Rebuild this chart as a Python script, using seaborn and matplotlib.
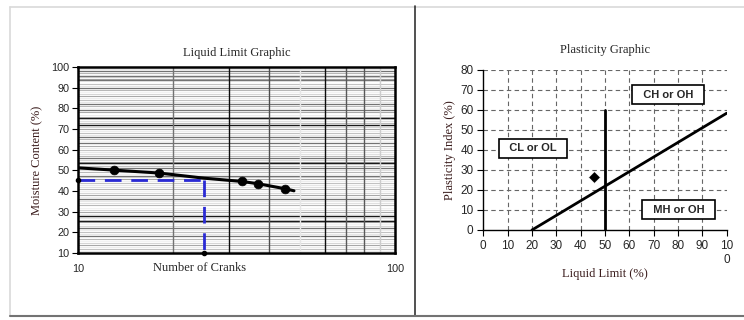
import numpy as np
import pandas as pd
import matplotlib
matplotlib.use("Agg")
import matplotlib.pyplot as plt
from matplotlib.lines import Line2D
from matplotlib.ticker import FixedLocator, NullLocator
import seaborn as sns

# ---- Liquid limit test data ----
cranks = [13, 18, 33, 37, 45]
moisture = [50.0, 48.7, 44.6, 43.5, 41.1]
# flow curve drawn through the test points
curve_cranks = [10, 13, 18, 25, 33, 37, 45, 48]
curve_moisture = [51.2, 50.1, 48.7, 46.2, 44.6, 43.5, 41.1, 40.1]
ll_cranks = 25
liquid_limit = 45.5
plasticity_index = 26.5

# ---- Plasticity chart reference lines ----
a_line_ll = [20, 100]
a_line_pi = [0, 58.4]
b_line_ll = [50, 50]
b_line_pi = [0, 60]
zone_labels = ["CL or OL", "CH or OH", "MH or OH"]
zone_ll = [20.5, 75.9, 80.2]
zone_pi = [40.8, 67.6, 10.1]

ll_yticks = [10, 20, 30, 40, 50, 60, 70, 80, 90, 100]
pl_xticks = [0, 10, 20, 30, 40, 50, 60, 70, 80, 90, 100]
pl_xticklabels = ["0", "10", "20", "30", "40", "50", "60", "70", "80", "90", "10\n0"]
pl_yticks = [0, 10, 20, 30, 40, 50, 60, 70, 80]

sns.set_theme(style="white")
plt.rcParams["font.family"] = ["Liberation Sans", "DejaVu Sans"]
SERIF = "Liberation Serif"
LABEL_COLOR = "#3a1c1c"

W, H = 744, 320
fig = plt.figure(figsize=(W / 100, H / 100), dpi=100)
fig.patch.set_facecolor("white")


def rect(x0, y0, x1, y1):
    return [x0 / W, 1 - y1 / H, (x1 - x0) / W, (y1 - y0) / H]


# ================= Liquid Limit Graphic =================
ax1 = fig.add_axes(rect(78, 67, 395, 253))
ax1.set_xscale("log")
ax1.set_xlim(10, 100)
ax1.set_ylim(10, 100)

# dense horizontal ruling
shades = ["0.9", "0.76", "0.93", "0.66", "0.84", "0.95", "0.72", "0.88"]
for i, v in enumerate(range(11, 100)):
    ax1.axhline(v, color=shades[i % len(shades)], lw=0.8, zorder=0)
for v in [98, 95.5, 93.5, 90, 82, 79, 66, 63, 56, 51, 47.5, 36, 22, 18]:
    ax1.axhline(v, color="0.45", lw=0.9, zorder=0)
for v in [75.5, 72, 53.5, 27.7, 25.5]:
    ax1.axhline(v, color="0.1", lw=1.0, zorder=0)
# vertical log rulings
vshade = {20: "0.45", 30: "0.05", 40: "0.3", 50: "0.9", 60: "0.05",
          70: "0.35", 80: "0.35", 90: "0.8"}
for v, c in vshade.items():
    ax1.axvline(v, color=c, lw=1.0, zorder=0)

# liquid limit construction lines
ax1.plot([10, ll_cranks], [liquid_limit, liquid_limit], color="#2a2ad4",
         lw=2, dashes=(6, 3.5), zorder=2)
ax1.plot([ll_cranks, ll_cranks], [liquid_limit, 10], color="#2a2ad4",
         lw=2, dashes=(6, 3.5), zorder=2)
ax1.plot([10, ll_cranks], [liquid_limit, 10], ls="none", marker="o",
         ms=3, color="black", zorder=4, clip_on=False)

curve = pd.DataFrame({"cranks": curve_cranks, "moisture": curve_moisture})
pts = pd.DataFrame({"cranks": cranks, "moisture": moisture})
sns.lineplot(data=curve, x="cranks", y="moisture", ax=ax1, color="black",
             lw=2.2, zorder=3, estimator=None, sort=False)
sns.scatterplot(data=pts, x="cranks", y="moisture", ax=ax1, color="black",
                s=40, edgecolor="black", zorder=4)

ax1.xaxis.set_major_locator(FixedLocator([10, 100]))
ax1.xaxis.set_minor_locator(NullLocator())
ax1.set_xticklabels(["10", "100"])
ax1.set_yticks(ll_yticks)
ax1.tick_params(axis="y", direction="out", length=4, width=0.8, color="black",
                labelsize=7.8, pad=2, left=True)
ax1.tick_params(axis="x", length=0, labelsize=7.8, pad=8)
for s in ax1.spines.values():
    s.set_color("black")
    s.set_linewidth(1.8)
ax1.set_xlabel("")
ax1.set_ylabel("Moisture Content (%)", family=SERIF, fontsize=9,
               color=LABEL_COLOR, labelpad=6)
ax1.set_title("Liquid Limit Graphic", family=SERIF, fontsize=9, pad=8)
fig.text(200 / W, 1 - 268 / H, "Number of Cranks", family=SERIF,
         fontsize=9, ha="center", va="center")

# ================= Plasticity Graphic =================
ax2 = fig.add_axes(rect(483.3, 70, 726.7, 230))
ax2.set_xlim(0, 100)
ax2.set_ylim(0, 80)
for v in pl_xticks[1:-1]:
    ax2.axvline(v, color="0.4", lw=0.8, dashes=(4, 3), zorder=0)
for v in pl_yticks[1:]:
    ax2.axhline(v, color="0.4", lw=0.8, dashes=(4, 3), zorder=0)

sns.lineplot(x=a_line_ll, y=a_line_pi, ax=ax2, color="black", lw=2, zorder=3,
             estimator=None)
sns.lineplot(x=b_line_ll, y=b_line_pi, ax=ax2, color="black", lw=2, zorder=3,
             estimator=None, sort=False)
sns.scatterplot(x=[liquid_limit], y=[plasticity_index], ax=ax2, marker="D",
                color="black", s=36, zorder=4)
for lbl, xx, yy in zip(zone_labels, zone_ll, zone_pi):
    ax2.text(xx, yy, "  " + lbl + "  ", ha="center", va="center", fontsize=8,
             fontweight="bold", zorder=5,
             bbox=dict(boxstyle="square,pad=0.4", fc="white", ec="black",
                       lw=1.2))

ax2.set_xticks(pl_xticks)
ax2.set_xticklabels(pl_xticklabels)
ax2.set_yticks(pl_yticks)
ax2.tick_params(axis="both", direction="out", length=4, width=0.8,
                color="black", labelsize=8.5, pad=3, left=True, bottom=True)
for side in ["top", "right"]:
    ax2.spines[side].set_visible(False)
for side in ["left", "bottom"]:
    ax2.spines[side].set_color("black")
    ax2.spines[side].set_linewidth(1.0)
ax2.set_xlabel("Liquid Limit (%)", family=SERIF, fontsize=9,
               color=LABEL_COLOR, labelpad=2)
ax2.set_ylabel("Plasticity Index (%)", family=SERIF, fontsize=9,
               color=LABEL_COLOR, labelpad=3)
ax2.set_title("Plasticity Graphic", family=SERIF, fontsize=9, pad=12)

# ---- table frame around the two panels ----
def hline(y, x0, x1, c, lw):
    fig.add_artist(Line2D([x0 / W, x1 / W], [1 - y / H, 1 - y / H],
                          color=c, lw=lw))


def vline(x, y0, y1, c, lw):
    fig.add_artist(Line2D([x / W, x / W], [1 - y0 / H, 1 - y1 / H],
                          color=c, lw=lw))


hline(6.5, 9.5, 744, "0.85", 1.2)
vline(9.5, 6.5, 316, "0.85", 1.2)
vline(414.5, 6, 316, "0.2", 1.2)
hline(315.5, 9.5, 744, "0.45", 1.5)

fig.savefig("out.png", dpi=100, facecolor="white")
